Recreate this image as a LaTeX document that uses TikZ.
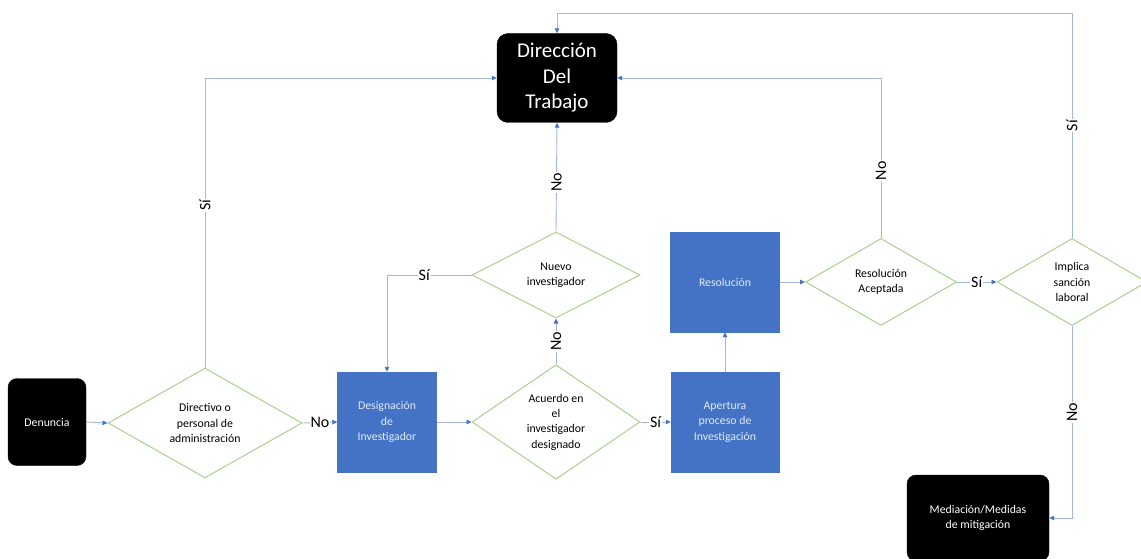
\documentclass[tikz,border=0pt]{standalone}
\usepackage{fontspec}
\setmainfont{Carlito}
\usetikzlibrary{shapes.geometric,arrows.meta}
\definecolor{boxblue}{HTML}{4472C4}
\definecolor{dgreen}{HTML}{A9D18E}
\definecolor{lineblue}{HTML}{A3B6D6}
\begin{document}
\begin{tikzpicture}[x=1pt,y=-1pt,
  blk/.style={fill=black,draw=black,rounded corners=9pt,text=white,align=center,inner sep=0pt,font=\fontsize{11.8}{15.3}\selectfont},
  bbox/.style={fill=boxblue,draw=boxblue,text=white!85!boxblue,align=center,inner sep=0pt,minimum width=99pt,minimum height=100pt,font=\fontsize{11.8}{15.3}\selectfont},
  dec/.style={diamond,draw=dgreen,line width=1pt,fill=white,align=center,inner sep=0pt,font=\fontsize{11.8}{15.3}\selectfont},
  conn/.style={draw=lineblue,line width=0.9pt,-{Triangle[length=5pt,width=4.5pt,color=boxblue]}},
  lbl/.style={fill=white,inner sep=1pt,font=\fontsize{16}{16}\selectfont,text=black}
]
\useasboundingbox (0,0) rectangle (1141,559);

\node[blk,minimum width=78pt,minimum height=87pt] (den) at (47,422) {Denuncia};
\node[dec,minimum width=194pt,minimum height=106pt] (d1) at (205,423) {Directivo o\\personal de\\administración};
\node[bbox] (desig) at (387,422) {Designación\\de\\Investigador};
\node[dec,minimum width=168pt,minimum height=98pt] (d2) at (556,422) {Acuerdo en\\el\\investigador\\designado};
\node[bbox,minimum width=108pt] (aper) at (725,422) {Apertura\\proceso de\\Investigación};
\node[bbox,minimum width=109pt] (resol) at (725,282) {Resolución};
\node[dec,minimum width=151pt,minimum height=87pt] (d3) at (881,282) {Resolución\\Aceptada};
\node[dec,minimum width=150pt,minimum height=87pt] (d4) at (1072,282) {Implica\\sanción\\laboral};
\node[dec,minimum width=168pt,minimum height=86pt] (nuevo) at (556,275) {Nuevo\\investigador};
\node[blk,minimum width=120pt,minimum height=89pt,rounded corners=11pt,font=\fontsize{21}{25.5}\selectfont] (dir) at (557,78) {Dirección\\Del\\Trabajo};
\node[blk,minimum width=142pt,minimum height=86pt] (med) at (978,518) {Mediación/Medidas\\de mitigación};

\draw[conn] (den.east) -- (d1.west);
\draw[conn] (d1.east) -- node[lbl]{No} (desig.west);
\draw[conn] (desig.east) -- (d2.west);
\draw[conn] (d2.east) -- node[lbl]{Sí} (aper.west);
\draw[conn] (aper.north) -- (resol.south);
\draw[conn] (resol.east) -- (d3.west);
\draw[conn] (d3.east) -- node[lbl]{Sí} (d4.west);
\draw[conn] (d2.north) -- node[lbl,rotate=90]{No} (nuevo.south);
\draw[conn] (nuevo.north) -- node[lbl,rotate=90,pos=0.45]{No} (dir.south);
\draw[conn] (nuevo.west) -| node[lbl,pos=0.28]{Sí} (desig.north);
\draw[conn] (d1.north) |- node[lbl,rotate=90,pos=0.28]{Sí} (dir.west);
\draw[conn] (d3.north) |- node[lbl,rotate=90,pos=0.21]{No} (dir.east);
\coordinate (topr) at (1072,13);
\draw[conn] (d4.north) -- node[lbl,rotate=90]{Sí} (topr) -| (dir.north);
\draw[conn] (d4.south) |- node[lbl,rotate=90,pos=0.225]{No} (med.east);
\end{tikzpicture}
\end{document}
